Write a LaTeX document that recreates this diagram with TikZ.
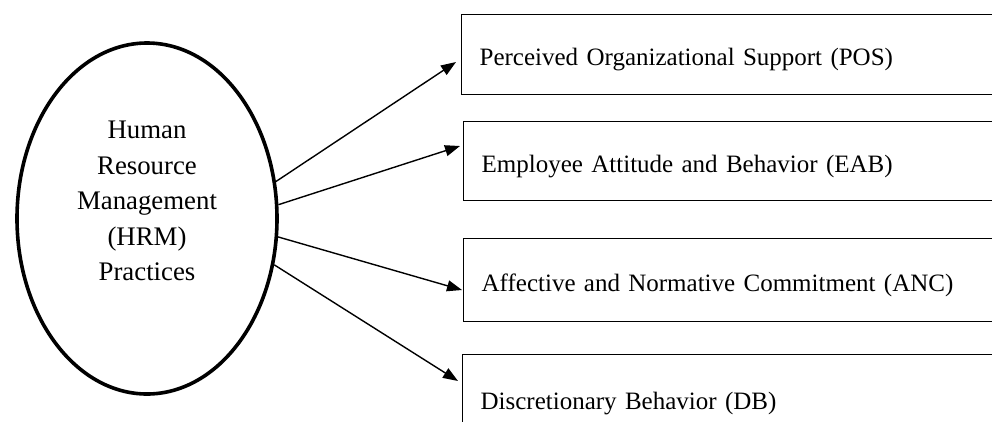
\documentclass[tikz,border=0pt]{standalone}
\usepackage{fontspec}
\setmainfont{Liberation Serif}
\usetikzlibrary{arrows.meta,shapes.geometric}
\begin{document}
\begin{tikzpicture}[x=1pt,y=-1pt,
  hrmshape/.style={draw, ellipse, line width=3.6pt, minimum width=260pt, minimum height=351pt, inner sep=0pt},
  hrmlabel/.style={align=center, font=\fontsize{26.8}{35.5}\selectfont, inner sep=0pt},
  outbox/.style={draw, line width=1.3pt, rectangle, anchor=north west, minimum width=540pt,
    text width=504pt, align=left, inner xsep=18pt, inner ysep=0pt, text height=22pt, text depth=0pt,
    font=\fontsize{25}{30}\selectfont},
  arr/.style={line width=1.4pt, -{Triangle[length=15pt,width=11pt]}}
]
\useasboundingbox (0,0) rectangle (992,421);
\begin{scope}
\clip (0,0) rectangle (992,421);
\node[hrmshape] (hrm) at (147,218.5) {};
\node[hrmlabel] (hrmtext) at (147,201) {Human\\Resource\\Management\\(HRM)\\Practices};

\node[outbox, minimum height=80pt] (pos) at (461,14) {Perceived Organizational Support (POS)};
\node[outbox, minimum height=79pt] (eab) at (463,121) {Employee Attitude and Behavior (EAB)};
\node[outbox, minimum height=83pt] (anc) at (463,238) {Affective and Normative Commitment (ANC)};
\node[outbox, minimum height=88pt] (db) at (462,354) {Discretionary Behavior (DB)};

\coordinate (t1) at (456,62);
\coordinate (t2) at (460,146);
\coordinate (t3) at (462,290);
\coordinate (t4) at (458,381);

\draw[arr] (hrm.16) -- (t1);
\draw[arr] (hrm.6) -- (t2);
\draw[arr] (hrm.-8.5) -- (t3);
\draw[arr] (hrm.-20) -- (t4);
\end{scope}
\end{tikzpicture}
\end{document}
